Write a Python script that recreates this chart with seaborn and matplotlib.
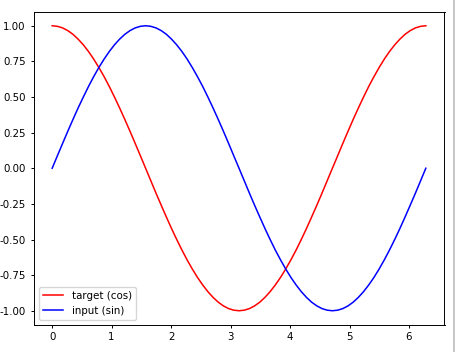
import matplotlib
matplotlib.use("Agg")
import matplotlib.pyplot as plt
from matplotlib.lines import Line2D
import seaborn as sns
import pandas as pd

# sample positions (radians) read along the x axis
x_vals = [0.000, 0.087, 0.175, 0.262, 0.349, 0.436, 0.524, 0.611, 0.698, 0.785,
          0.873, 0.960, 1.047, 1.134, 1.222, 1.309, 1.396, 1.484, 1.571, 1.658,
          1.745, 1.833, 1.920, 2.007, 2.094, 2.182, 2.269, 2.356, 2.443, 2.531,
          2.618, 2.705, 2.793, 2.880, 2.967, 3.054, 3.142, 3.229, 3.316, 3.403,
          3.491, 3.578, 3.665, 3.752, 3.840, 3.927, 4.014, 4.102, 4.189, 4.276,
          4.363, 4.451, 4.538, 4.625, 4.712, 4.800, 4.887, 4.974, 5.061, 5.149,
          5.236, 5.323, 5.411, 5.498, 5.585, 5.672, 5.760, 5.847, 5.934, 6.021,
          6.109, 6.196, 6.283]
target_cos = [1.000, 0.996, 0.985, 0.966, 0.940, 0.906, 0.866, 0.819, 0.766, 0.707,
              0.643, 0.574, 0.500, 0.423, 0.342, 0.259, 0.174, 0.087, 0.000,
              -0.087, -0.174, -0.259, -0.342, -0.423, -0.500, -0.574, -0.643, -0.707,
              -0.766, -0.819, -0.866, -0.906, -0.940, -0.966, -0.985, -0.996, -1.000,
              -0.996, -0.985, -0.966, -0.940, -0.906, -0.866, -0.819, -0.766, -0.707,
              -0.643, -0.574, -0.500, -0.423, -0.342, -0.259, -0.174, -0.087, 0.000,
              0.087, 0.174, 0.259, 0.342, 0.423, 0.500, 0.574, 0.643, 0.707,
              0.766, 0.819, 0.866, 0.906, 0.940, 0.966, 0.985, 0.996, 1.000]
input_sin = [0.000, 0.087, 0.174, 0.259, 0.342, 0.423, 0.500, 0.574, 0.643, 0.707,
             0.766, 0.819, 0.866, 0.906, 0.940, 0.966, 0.985, 0.996, 1.000,
             0.996, 0.985, 0.966, 0.940, 0.906, 0.866, 0.819, 0.766, 0.707,
             0.643, 0.574, 0.500, 0.423, 0.342, 0.259, 0.174, 0.087, 0.000,
             -0.087, -0.174, -0.259, -0.342, -0.423, -0.500, -0.574, -0.643, -0.707,
             -0.766, -0.819, -0.866, -0.906, -0.940, -0.966, -0.985, -0.996, -1.000,
             -0.996, -0.985, -0.966, -0.940, -0.906, -0.866, -0.819, -0.766, -0.707,
             -0.643, -0.574, -0.500, -0.423, -0.342, -0.259, -0.174, -0.087, 0.000]
series_labels = ["target (cos)", "input (sin)"]
series_colors = ["red", "blue"]
x_ticks = [0, 1, 2, 3, 4, 5, 6]
y_ticks = [-1.00, -0.75, -0.50, -0.25, 0.00, 0.25, 0.50, 0.75, 1.00]

df = pd.DataFrame({
    "x": x_vals * 2,
    "y": target_cos + input_sin,
    "series": [series_labels[0]] * len(x_vals) + [series_labels[1]] * len(x_vals),
})

fs = 7.4
plt.rcParams.update({
    "font.family": "DejaVu Sans",
    "font.size": fs,
    "axes.linewidth": 0.7,
    "xtick.major.size": 2.5,
    "ytick.major.size": 2.5,
    "xtick.major.width": 0.7,
    "ytick.major.width": 0.7,
    "xtick.major.pad": 2.6,
    "ytick.major.pad": 3.2,
    "legend.fontsize": fs,
})

fig = plt.figure(figsize=(4.56, 3.52), dpi=100)
W, H = 456, 352
ax = fig.add_axes([33.5 / W, (H - 325) / H, (444.5 - 33.5) / W, (325 - 11.5) / H])

sns.lineplot(data=df, x="x", y="y", hue="series", palette=dict(zip(series_labels, series_colors)),
             linewidth=1.1, ax=ax, sort=False, estimator=None)

ax.set_xticks(x_ticks)
ax.set_yticks(y_ticks)
ax.set_yticklabels([f"{v:.2f}" for v in y_ticks])
ax.set_xlabel("")
ax.set_ylabel("")
ax.margins(x=0.05, y=0.05)
ax.legend(loc="lower left", handlelength=2.0, frameon=True)

fig.add_artist(Line2D([454.5 / W, 454.5 / W], [0, 1], color="#c8c8c8", linewidth=1.5,
                      transform=fig.transFigure))

fig.savefig("out.png", dpi=100)
